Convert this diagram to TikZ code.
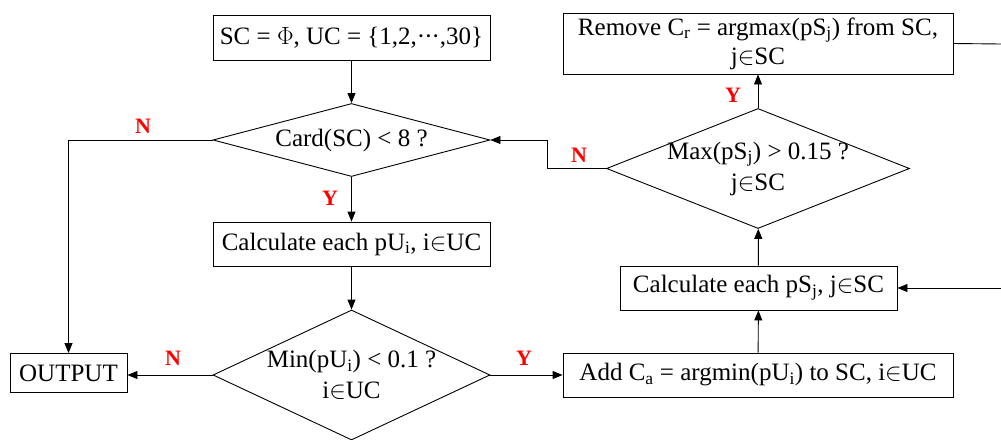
\documentclass[tikz,border=0pt]{standalone}
\usepackage{fontspec}
\setmainfont{Liberation Serif}
\usetikzlibrary{arrows.meta,shapes.geometric}
\begin{document}
\begin{tikzpicture}[x=1pt,y=-1pt,
  every node/.style={font=\fontsize{25}{31}\selectfont},
  box/.style={draw,line width=0.9pt,inner sep=0pt,align=center},
  dia/.style={draw,diamond,line width=0.9pt,inner sep=0pt},
  lab/.style={text=red,font=\fontsize{22}{26}\selectfont\bfseries},
  arr/.style={line width=0.9pt,-{Triangle[length=10pt,width=8pt]}},
  ln/.style={line width=0.9pt}]
\useasboundingbox (0,0) rectangle (1001,439);
\clip (0,0) rectangle (1001,439);
\node[box,minimum width=277pt,minimum height=45pt] (init) at (351.5,37.5) {SC = $\Phi$, UC = \{1,2,\textperiodcentered\kern-1pt\textperiodcentered\kern-1pt\textperiodcentered,30\}};
\node[dia,minimum width=277pt,minimum height=73pt] (d1) at (351.5,140) {};
\node (d1t) at (d1.center) {Card(SC) < 8 ?};
\node[box,minimum width=277pt,minimum height=44pt] (cpu) at (351.5,244) {Calculate each pU\textsubscript{i}, i$\in$UC};
\node[dia,minimum width=277pt,minimum height=130pt] (d2) at (351.5,375) {};
\node[align=center] (d2t) at (d2.center) {Min(pU\textsubscript{i}) < 0.1 ?\\ i$\in$UC};
\node[box,minimum width=117pt,minimum height=39pt] (out) at (68.5,373) {OUTPUT};
\node[box,minimum width=390pt,minimum height=44pt] (add) at (758,375) {Add C\textsubscript{a} = argmin(pU\textsubscript{i}) to SC, i$\in$UC};
\node[box,minimum width=277pt,minimum height=44pt] (cps) at (758.5,288) {Calculate each pS\textsubscript{j}, j$\in$SC};
\node[dia,minimum width=303pt,minimum height=120pt] (d3) at (758,168.5) {};
\node[align=center] (d3t) at (d3.center) {Max(pS\textsubscript{j}) > 0.15 ?\\ j$\in$SC};
\node[box,minimum width=390pt,minimum height=61pt] (rem) at (758,43.5) {Remove C\textsubscript{r} = argmax(pS\textsubscript{j}) from SC,\\[-2pt] j$\in$SC};
\coordinate (rin) at (1001,288);
\coordinate (rout) at (1001,44);
\draw[arr] (init) -- (d1);
\draw[arr] (d1) -- (cpu);
\draw[arr] (cpu) -- (d2);
\draw[arr] (d1.west) -| (out.north);
\draw[arr] (d2.west) -- (d2.west -| out.east);
\draw[arr] (d2.east) -- (add.west);
\draw[arr] (add) -- (cps);
\draw[arr] (rin) -- (cps.east);
\draw[arr] (cps) -- (d3);
\draw[arr] (d3) -- (rem);
\draw[arr] (d3.west) -- ++(-59,0) |- (d1.east);
\draw[ln] (rem.east) -- (rout);
\node[lab] (n1) at (143,126) {N};
\node[lab] (y1) at (330,198) {Y};
\node[lab] (n2) at (173,358) {N};
\node[lab] (y2) at (524,358) {Y};
\node[lab] (n3) at (579,155) {N};
\node[lab] (y3) at (733,95) {Y};
\end{tikzpicture}
\end{document}
